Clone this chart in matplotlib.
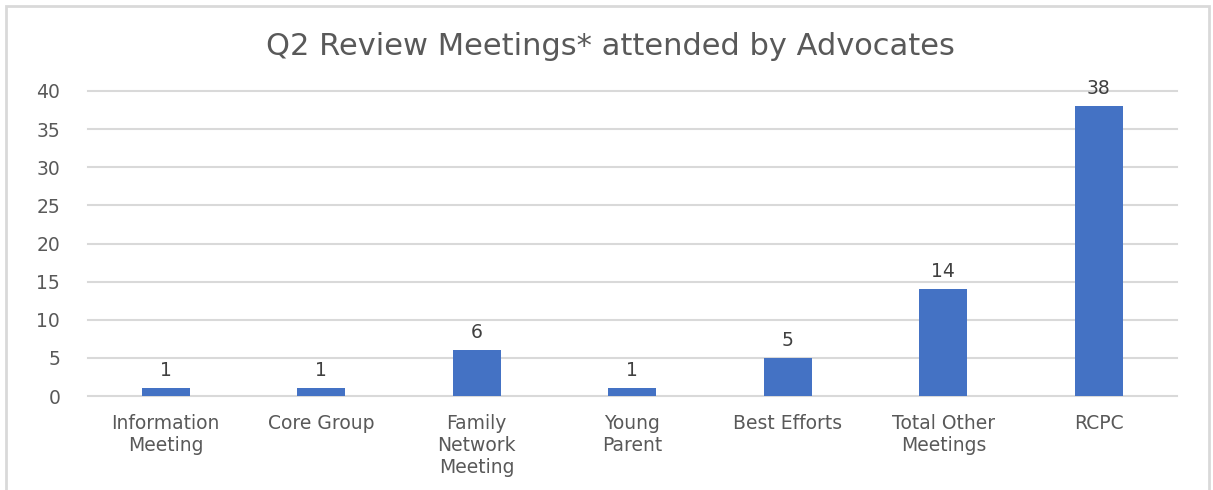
import matplotlib.pyplot as plt
from matplotlib.patches import Rectangle

categories = ['Information\nMeeting', 'Core Group', 'Family\nNetwork\nMeeting',
              'Young\nParent', 'Best Efforts', 'Total Other\nMeetings', 'RCPC']
counts = [1, 1, 6, 1, 5, 14, 38]
yticks = [0, 5, 10, 15, 20, 25, 30, 35, 40]

text_grey = '#595959'
bar_blue = '#4472C4'
grid_grey = '#D9D9D9'

plt.rcParams['font.family'] = ['DejaVu Sans']

fig = plt.figure(figsize=(12.13, 4.9), dpi=100)
ax = fig.add_axes([0.0725, 0.1918, 0.8975, 0.6225])

x = range(len(categories))
bars = ax.bar(x, counts, width=0.31, color=bar_blue, zorder=3)

# value labels above each bar
for rect, v in zip(bars, counts):
    ax.annotate(str(v), (rect.get_x() + rect.get_width() / 2, v),
                xytext=(0, 6), textcoords='offset points',
                ha='center', va='bottom', fontsize=13.5, color='#404040')

ax.set_xlim(-0.5, len(categories) - 0.5)
ax.set_ylim(0, 40)
ax.set_yticks(yticks)
ax.set_xticks(list(x))
ax.set_xticklabels(categories, fontsize=13.5, color=text_grey, linespacing=1.2)
ax.tick_params(axis='y', labelsize=13.5, labelcolor=text_grey, length=0, pad=20)
ax.tick_params(axis='x', length=0, pad=13)

ax.yaxis.grid(True, color=grid_grey, linewidth=1.5)
for gl in ax.get_ygridlines():
    gl.set_clip_on(False)
ax.set_axisbelow(True)
for side in ['top', 'right', 'left', 'bottom']:
    ax.spines[side].set_visible(False)

fig.text(0.503, 0.905, 'Q2 Review Meetings* attended by Advocates',
         ha='center', va='center', fontsize=22, color=text_grey)

# light border around the chart
fig.patches.append(Rectangle((6 / 1213, -0.05), 1203 / 1213, 1.05 - 6 / 490,
                             transform=fig.transFigure, fill=False,
                             edgecolor=grid_grey, linewidth=2))

fig.savefig('out.png', dpi=100, facecolor='white')
